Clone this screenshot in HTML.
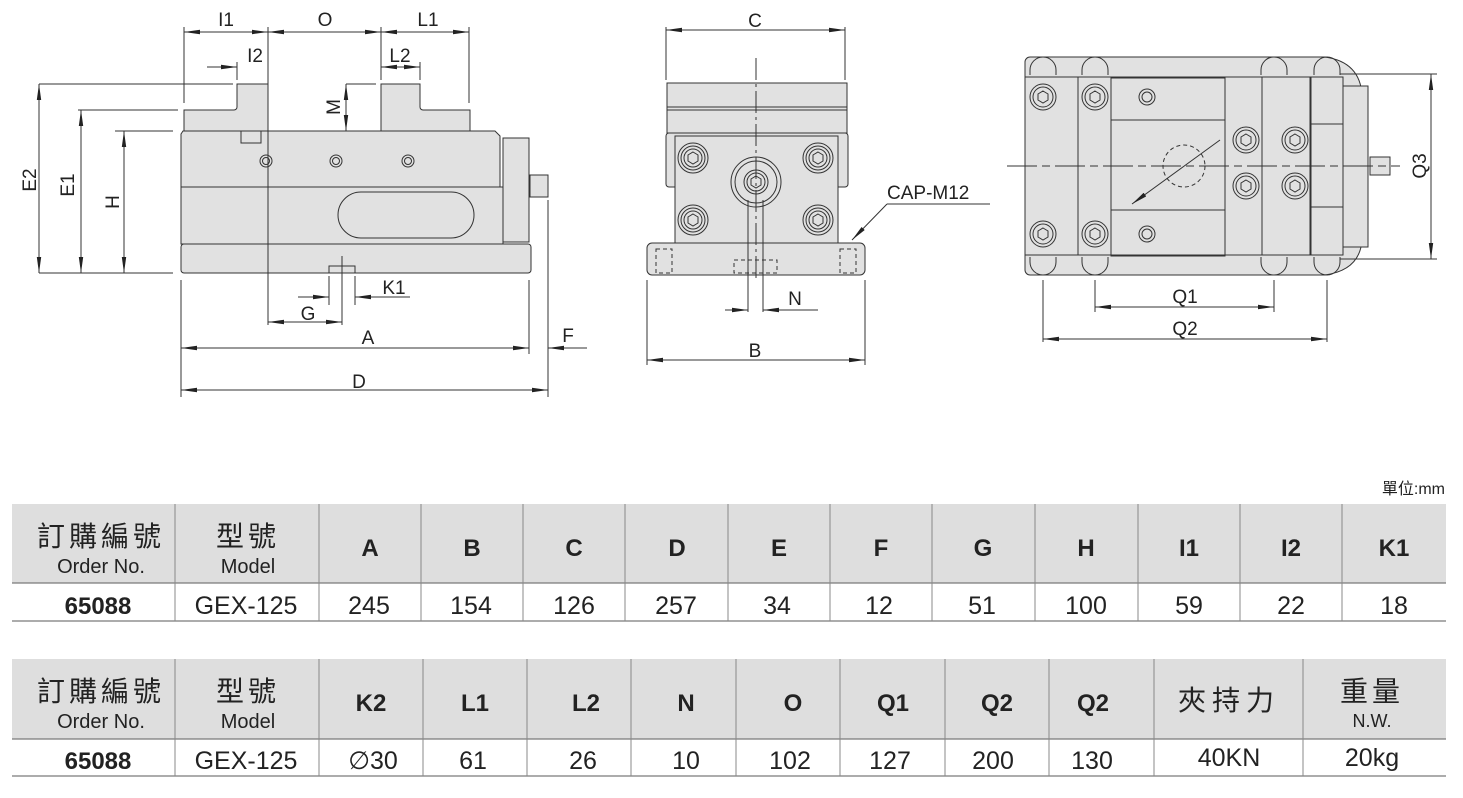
<!DOCTYPE html>
<html><head><meta charset="utf-8"><style>
html,body{margin:0;padding:0;background:#fff;}
svg{display:block;}
.t{font-family:"Liberation Sans",Arial,sans-serif;fill:#222;}
.c{font-family:"Liberation Sans","Noto Sans CJK TC",sans-serif;fill:#222;}
</style></head><body>
<svg width="1463" height="798" viewBox="0 0 1463 798" xmlns="http://www.w3.org/2000/svg">
<defs>
<marker id="a" viewBox="0 0 16 6" refX="16" refY="3" markerWidth="16" markerHeight="6" markerUnits="userSpaceOnUse" orient="auto-start-reverse"><path d="M0,0.8 L16,3 L0,5.2 Z" fill="#222"/></marker>
</defs>
<g stroke="#333" stroke-width="1" fill="#e1e1e1">
<!-- SIDE VIEW -->
<path d="M184,131 V110 H234 a3,3 0 0 0 3,-3 V84 H268 V131 Z"/>
<path d="M381,131 V84 H420 V107 a3,3 0 0 0 3,3 H470 V131 Z"/>
<path d="M183,131 H495 L500,136 V187 H181 V134 Z"/>
<rect x="181" y="187" width="322" height="57"/>
<rect x="503" y="138" width="26" height="104"/>
<rect x="181" y="244" width="350" height="29" rx="3"/>
<rect x="530" y="175" width="18" height="22"/>
<rect x="338" y="192" width="136" height="46" rx="23"/>
<path d="M241,131 V143 H261 V131" fill="none"/>
<rect x="329" y="266" width="26" height="7" fill="none"/>
<circle cx="266" cy="161" r="6"/><circle cx="266" cy="161" r="3.5"/>
<circle cx="336" cy="161" r="6"/><circle cx="336" cy="161" r="3.5"/>
<circle cx="408" cy="161" r="6"/><circle cx="408" cy="161" r="3.5"/>
<!-- FRONT VIEW -->
<rect x="667" y="83" width="180" height="50"/>
<line x1="667" y1="107" x2="847" y2="107"/><line x1="667" y1="110" x2="847" y2="110"/>
<rect x="666" y="133" width="182" height="54" rx="3"/>
<rect x="675" y="136" width="163" height="107"/>
<rect x="647" y="243" width="218" height="32" rx="5"/>
<g fill="none"><circle cx="693" cy="158" r="15"/><circle cx="693" cy="158" r="12"/><circle cx="693" cy="158" r="9"/>
<circle cx="818" cy="158" r="15"/><circle cx="818" cy="158" r="12"/><circle cx="818" cy="158" r="9"/>
<circle cx="693" cy="220" r="15"/><circle cx="693" cy="220" r="12"/><circle cx="693" cy="220" r="9"/>
<circle cx="818" cy="220" r="15"/><circle cx="818" cy="220" r="12"/><circle cx="818" cy="220" r="9"/>
<circle cx="756" cy="182" r="25"/><circle cx="756" cy="182" r="21"/><circle cx="756" cy="182" r="12"/><circle cx="756" cy="182" r="9"/></g>
<g fill="none" stroke-dasharray="4,3"><rect x="734" y="260" width="43" height="13"/><rect x="656" y="249" width="16" height="24"/><rect x="840" y="249" width="16" height="24"/></g>
<!-- TOP VIEW -->
<path d="M1030,57 H1325 Q1360,62 1362,95 V240 Q1360,270 1325,275 H1030 a5,5 0 0 1 -5,-5 V62 a5,5 0 0 1 5,-5 Z"/>
<rect x="1343" y="86" width="25" height="161"/>
<rect x="1370" y="157" width="20" height="18"/>
<rect x="1078" y="77" width="33" height="178"/>
<rect x="1111" y="78" width="114" height="178"/>
<rect x="1111" y="120" width="114" height="90"/>
<rect x="1262" y="77" width="48" height="178"/>
<rect x="1311" y="77" width="32" height="178"/>
<rect x="1311" y="124" width="32" height="83"/>
<line x1="1025" y1="77" x2="1343" y2="77"/><line x1="1025" y1="255" x2="1343" y2="255"/>
<g fill="none"><circle cx="1043" cy="97" r="13"/><circle cx="1043" cy="97" r="10"/>
<circle cx="1095" cy="97" r="13"/><circle cx="1095" cy="97" r="10"/>
<circle cx="1043" cy="234" r="13"/><circle cx="1043" cy="234" r="10"/>
<circle cx="1095" cy="234" r="13"/><circle cx="1095" cy="234" r="10"/>
<circle cx="1246" cy="140" r="13"/><circle cx="1246" cy="140" r="10"/>
<circle cx="1295" cy="140" r="13"/><circle cx="1295" cy="140" r="10"/>
<circle cx="1246" cy="186" r="13"/><circle cx="1246" cy="186" r="10"/>
<circle cx="1295" cy="186" r="13"/><circle cx="1295" cy="186" r="10"/>
<circle cx="1147" cy="97" r="8"/><circle cx="1147" cy="97" r="5"/>
<circle cx="1147" cy="234" r="8"/><circle cx="1147" cy="234" r="5"/>
<path d="M1030,75 V70 a13,13 0 0 1 26,0 V75 M1082,75 V70 a13,13 0 0 1 26,0 V75 M1261,75 V70 a13,13 0 0 1 26,0 V75 M1314,75 V70 a13,13 0 0 1 26,0 V75"/>
<path d="M1030,257 V262 a13,13 0 0 0 26,0 V257 M1082,257 V262 a13,13 0 0 0 26,0 V257 M1261,257 V262 a13,13 0 0 0 26,0 V257 M1314,257 V262 a13,13 0 0 0 26,0 V257"/>
<circle cx="1184" cy="166" r="21" stroke-dasharray="4,3"/></g>
</g>
<!-- hex glyphs -->
<g fill="none" stroke="#333" stroke-width="1">
<path d="M693,152 l5,3 v6 l-5,3 l-5,-3 v-6z M818,152 l5,3 v6 l-5,3 l-5,-3 v-6z M693,214 l5,3 v6 l-5,3 l-5,-3 v-6z M818,214 l5,3 v6 l-5,3 l-5,-3 v-6z M756,176 l5,3 v6 l-5,3 l-5,-3 v-6z"/>
<path d="M1043,91 l5,3 v6 l-5,3 l-5,-3 v-6z M1095,91 l5,3 v6 l-5,3 l-5,-3 v-6z M1043,228 l5,3 v6 l-5,3 l-5,-3 v-6z M1095,228 l5,3 v6 l-5,3 l-5,-3 v-6z M1246,134 l5,3 v6 l-5,3 l-5,-3 v-6z M1295,134 l5,3 v6 l-5,3 l-5,-3 v-6z M1246,180 l5,3 v6 l-5,3 l-5,-3 v-6z M1295,180 l5,3 v6 l-5,3 l-5,-3 v-6z"/>
</g>
<!-- dimension lines -->
<g stroke="#333" stroke-width="1" fill="none">
<line x1="184" y1="27" x2="184" y2="103"/><line x1="268" y1="27" x2="268" y2="325"/><line x1="381" y1="27" x2="381" y2="80"/><line x1="469" y1="27" x2="469" y2="103"/>
<line x1="184" y1="32" x2="268" y2="32" marker-start="url(#a)" marker-end="url(#a)"/>
<line x1="268" y1="32" x2="381" y2="32" marker-start="url(#a)" marker-end="url(#a)"/>
<line x1="381" y1="32" x2="469" y2="32" marker-start="url(#a)" marker-end="url(#a)"/>
<line x1="207" y1="67" x2="237" y2="67" marker-end="url(#a)"/><line x1="237" y1="62" x2="237" y2="80"/>
<line x1="381" y1="67" x2="420" y2="67" marker-start="url(#a)" marker-end="url(#a)"/><line x1="420" y1="62" x2="420" y2="80"/>
<line x1="346" y1="84" x2="346" y2="131" marker-start="url(#a)" marker-end="url(#a)"/><line x1="346" y1="84" x2="376" y2="84"/>
<line x1="39" y1="84" x2="233" y2="84"/><line x1="78" y1="110" x2="178" y2="110"/><line x1="115" y1="131" x2="173" y2="131"/><line x1="39" y1="273" x2="173" y2="273"/>
<line x1="39" y1="84" x2="39" y2="273" marker-start="url(#a)" marker-end="url(#a)"/>
<line x1="81" y1="110" x2="81" y2="273" marker-start="url(#a)" marker-end="url(#a)"/>
<line x1="124" y1="131" x2="124" y2="273" marker-start="url(#a)" marker-end="url(#a)"/>
<line x1="342" y1="256" x2="342" y2="325"/><line x1="329" y1="276" x2="329" y2="305"/><line x1="355" y1="276" x2="355" y2="305"/>
<line x1="298" y1="297" x2="329" y2="297" marker-end="url(#a)"/><line x1="410" y1="297" x2="355" y2="297" marker-end="url(#a)"/>
<line x1="268" y1="322" x2="342" y2="322" marker-start="url(#a)" marker-end="url(#a)"/>
<line x1="181" y1="280" x2="181" y2="397"/><line x1="529" y1="280" x2="529" y2="354"/><line x1="548" y1="200" x2="548" y2="397"/>
<line x1="181" y1="348" x2="529" y2="348" marker-start="url(#a)" marker-end="url(#a)"/>
<line x1="587" y1="348" x2="548" y2="348" marker-end="url(#a)"/>
<line x1="181" y1="390" x2="548" y2="390" marker-start="url(#a)" marker-end="url(#a)"/>
<!-- front -->
<line x1="666" y1="27" x2="666" y2="80"/><line x1="845" y1="27" x2="845" y2="80"/>
<line x1="666" y1="30" x2="845" y2="30" marker-start="url(#a)" marker-end="url(#a)"/>
<line x1="756" y1="58" x2="756" y2="280" stroke-dasharray="22,4,3,4"/>
<line x1="748" y1="200" x2="748" y2="312"/><line x1="763" y1="200" x2="763" y2="312"/>
<line x1="725" y1="310" x2="748" y2="310" marker-end="url(#a)"/><line x1="818" y1="310" x2="763" y2="310" marker-end="url(#a)"/>
<line x1="647" y1="280" x2="647" y2="365"/><line x1="865" y1="280" x2="865" y2="365"/>
<line x1="647" y1="360" x2="865" y2="360" marker-start="url(#a)" marker-end="url(#a)"/>
<line x1="990" y1="204" x2="887" y2="204"/><line x1="887" y1="204" x2="852" y2="240" marker-end="url(#a)"/>
<!-- top -->
<line x1="1007" y1="166" x2="1400" y2="166" stroke-dasharray="30,5,8,5"/>
<line x1="1132" y1="204" x2="1220" y2="140" marker-start="url(#a)"/>
<line x1="1340" y1="74" x2="1437" y2="74"/><line x1="1340" y1="259" x2="1437" y2="259"/>
<line x1="1431" y1="74" x2="1431" y2="259" marker-start="url(#a)" marker-end="url(#a)"/>
<line x1="1043" y1="280" x2="1043" y2="342"/><line x1="1095" y1="280" x2="1095" y2="312"/><line x1="1274" y1="280" x2="1274" y2="312"/><line x1="1327" y1="280" x2="1327" y2="342"/>
<line x1="1095" y1="307" x2="1274" y2="307" marker-start="url(#a)" marker-end="url(#a)"/>
<line x1="1043" y1="339" x2="1327" y2="339" marker-start="url(#a)" marker-end="url(#a)"/>
</g>
<g class="t" font-size="19">
<text x="226" y="26" text-anchor="middle">I1</text><text x="325" y="26" text-anchor="middle">O</text><text x="428" y="26" text-anchor="middle">L1</text>
<text x="255" y="62" text-anchor="middle">I2</text><text x="400" y="62" text-anchor="middle">L2</text>
<text transform="translate(340,107) rotate(-90)" text-anchor="middle">M</text>
<text transform="translate(36,180) rotate(-90)" text-anchor="middle">E2</text>
<text transform="translate(74,185) rotate(-90)" text-anchor="middle">E1</text>
<text transform="translate(119,202) rotate(-90)" text-anchor="middle">H</text>
<text x="394" y="294" text-anchor="middle">K1</text><text x="308" y="320" text-anchor="middle">G</text>
<text x="368" y="344" text-anchor="middle">A</text><text x="568" y="342" text-anchor="middle">F</text><text x="359" y="388" text-anchor="middle">D</text>
<text x="755" y="27" text-anchor="middle">C</text><text x="795" y="305" text-anchor="middle">N</text><text x="755" y="357" text-anchor="middle">B</text>
<text x="887" y="199">CAP-M12</text>
<text transform="translate(1426,166) rotate(-90)" text-anchor="middle">Q3</text>
<text x="1185" y="303" text-anchor="middle">Q1</text><text x="1185" y="335" text-anchor="middle">Q2</text>
</g>
<!-- TABLES -->
<text class="c" x="1445" y="494" font-size="16" text-anchor="end">單位:mm</text>
<g>
<rect x="12" y="504" width="1434" height="79" fill="#dedede"/>
<rect x="12" y="659" width="1434" height="80" fill="#dedede"/>
<g stroke="#7a7a7a" stroke-width="1.3">
<line x1="12" y1="583" x2="1446" y2="583"/><line x1="12" y1="621" x2="1446" y2="621"/>
<line x1="12" y1="739" x2="1446" y2="739"/><line x1="12" y1="776" x2="1446" y2="776"/>
</g>
<g stroke="#888" stroke-width="1">
<path d="M175,504V621 M319,504V621 M421,504V621 M523,504V621 M625,504V621 M728,504V621 M830,504V621 M932,504V621 M1035,504V621 M1138,504V621 M1240,504V621 M1342,504V621"/>
<path d="M175,659V776 M319,659V776 M423,659V776 M527,659V776 M631,659V776 M736,659V776 M840,659V776 M945,659V776 M1049,659V776 M1154,659V776 M1303,659V776"/>
</g>
<g class="c" text-anchor="middle">
<text x="101" y="546" font-size="28" letter-spacing="4">訂購編號</text><text x="101" y="573" font-size="20">Order No.</text>
<text x="248" y="546" font-size="28" letter-spacing="4">型號</text><text x="248" y="573" font-size="20">Model</text>
<text x="101" y="701" font-size="28" letter-spacing="4">訂購編號</text><text x="101" y="728" font-size="20">Order No.</text>
<text x="248" y="701" font-size="28" letter-spacing="4">型號</text><text x="248" y="728" font-size="20">Model</text>
<text x="1229" y="710" font-size="28" letter-spacing="6">夾持力</text>
<text x="1372" y="701" font-size="28" letter-spacing="4">重量</text><text x="1372" y="727" font-size="18">N.W.</text>
</g>
<g class="t" font-size="24" font-weight="bold" text-anchor="middle">
<text x="370" y="556">A</text><text x="472" y="556">B</text><text x="574" y="556">C</text><text x="677" y="556">D</text><text x="779" y="556">E</text><text x="881" y="556">F</text><text x="983" y="556">G</text><text x="1086" y="556">H</text><text x="1189" y="556">I1</text><text x="1291" y="556">I2</text><text x="1394" y="556">K1</text>
<text x="371" y="711">K2</text><text x="475" y="711">L1</text><text x="586" y="711">L2</text><text x="686" y="711">N</text><text x="793" y="711">O</text><text x="893" y="711">Q1</text><text x="997" y="711">Q2</text><text x="1093" y="711">Q2</text>
<text x="98" y="614">65088</text><text x="98" y="769">65088</text>
</g>
<g class="t" font-size="25" text-anchor="middle">
<text x="246" y="614">GEX-125</text><text x="369" y="614">245</text><text x="471" y="614">154</text><text x="574" y="614">126</text><text x="676" y="614">257</text><text x="777" y="614">34</text><text x="879" y="614">12</text><text x="982" y="614">51</text><text x="1086" y="614">100</text><text x="1189" y="614">59</text><text x="1291" y="614">22</text><text x="1394" y="614">18</text>
<text x="246" y="769">GEX-125</text><text x="373" y="769">∅30</text><text x="473" y="769">61</text><text x="583" y="769">26</text><text x="686" y="769">10</text><text x="790" y="769">102</text><text x="890" y="769">127</text><text x="993" y="769">200</text><text x="1092" y="769">130</text><text x="1229" y="766">40KN</text><text x="1372" y="766">20kg</text>
</g>
</g>
</svg>
</body></html>
